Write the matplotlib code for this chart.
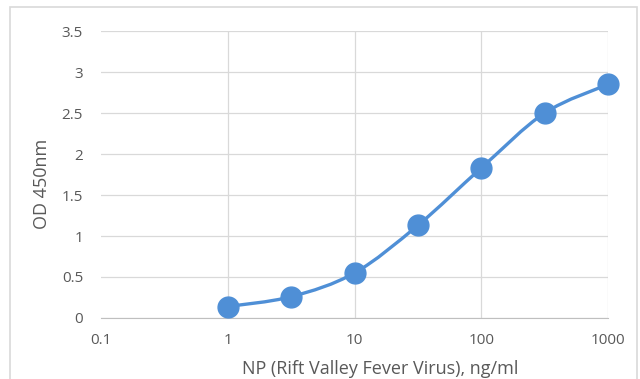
import numpy as np
import matplotlib
matplotlib.use("Agg")
import matplotlib.pyplot as plt
from matplotlib.path import Path
from matplotlib.patches import PathPatch, Rectangle

# ---- data ----
conc = [1, 3.16, 10, 31.6, 100, 316, 1000]          # ng/ml
od = [0.14, 0.26, 0.55, 1.13, 1.83, 2.50, 2.85]    # OD 450nm

xticks = [0.1, 1, 10, 100, 1000]
xticklabels = ["0.1", "1", "10", "100", "1000"]
yticks = [0, 0.5, 1, 1.5, 2, 2.5, 3, 3.5]
yticklabels = ["0", "0.5", "1", "1.5", "2", "2.5", "3", "3.5"]

blue = "#4F8FD6"
grey_txt = "#595959"
plt.rcParams["font.family"] = ["Open Sans", "DejaVu Sans"]

fig = plt.figure(figsize=(6.4, 3.79), dpi=100)
ax = fig.add_axes([0.158, 0.161, 0.792, 0.757])

# chart border like excel
fig.patches.append(Rectangle((10 / 640, -0.05), 627 / 640, 1.05 - 7 / 379,
                             transform=fig.transFigure, fill=False,
                             edgecolor="#d9d9d9", linewidth=1.2))

ax.set_xscale("log")
ax.set_xlim(0.1, 1000)
ax.set_ylim(0, 3.5)

# smoothed line (excel style bezier) built in log space
lx = np.log10(conc)
ly = np.array(od)
n = len(lx)
verts = [(conc[0], od[0])]
codes = [Path.MOVETO]
for i in range(n - 1):
    p0 = (lx[max(i - 1, 0)], ly[max(i - 1, 0)])
    p1 = (lx[i], ly[i])
    p2 = (lx[i + 1], ly[i + 1])
    p3 = (lx[min(i + 2, n - 1)], ly[min(i + 2, n - 1)])
    c1 = (p1[0] + (p2[0] - p0[0]) / 6, p1[1] + (p2[1] - p0[1]) / 6)
    c2 = (p2[0] - (p3[0] - p1[0]) / 6, p2[1] - (p3[1] - p1[1]) / 6)
    for c in (c1, c2, p2):
        verts.append((10 ** c[0], c[1]))
        codes.append(Path.CURVE4)
ax.add_patch(PathPatch(Path(verts, codes), fill=False, edgecolor=blue,
                       linewidth=2.4, zorder=3))
ax.plot(conc, od, "o", color=blue, markersize=15, zorder=4, clip_on=False)

ax.set_xticks(xticks)
ax.set_xticklabels(xticklabels)
ax.minorticks_off()
ax.set_yticks(yticks)
ax.set_yticklabels(yticklabels)
ax.tick_params(axis="both", length=0, labelsize=11, colors=grey_txt)
ax.tick_params(axis="x", pad=11)
ax.tick_params(axis="y", pad=13)

ax.grid(True, color="#d9d9d9", linewidth=0.9)
ax.set_axisbelow(True)
ax.get_xgridlines()[0].set_visible(False)
for s in ["top", "left", "right"]:
    ax.spines[s].set_visible(False)
ax.spines["bottom"].set_color("#bfbfbf")

ax.set_xlabel("NP (Rift Valley Fever Virus), ng/ml", fontsize=13, color=grey_txt,
              va="center")
ax.xaxis.set_label_coords(0.55, -0.178)
ax.set_ylabel("OD 450nm", fontsize=13, color=grey_txt, va="center")
ax.yaxis.set_label_coords(-0.116, 0.467)

fig.savefig("out.png", dpi=100)
